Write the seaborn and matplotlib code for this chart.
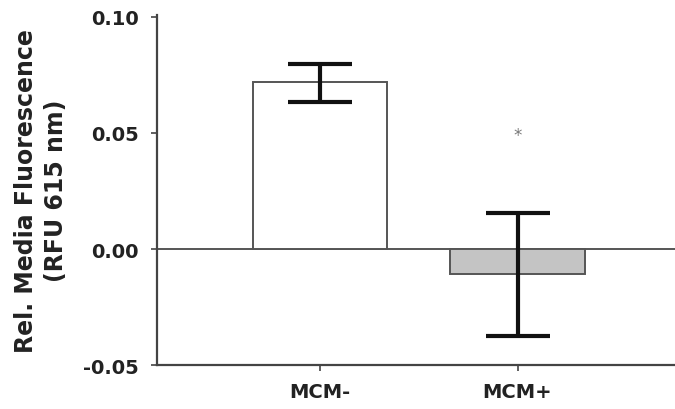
import matplotlib
matplotlib.use("Agg")
import matplotlib.pyplot as plt
import seaborn as sns
import pandas as pd
import numpy as np

# values
groups = ["MCM-", "MCM+"]
means = [0.0720, -0.0108]
ci_low = [0.0634, -0.0375]
ci_high = [0.0797, 0.0155]
bar_colors = ["#ffffff", "#c4c4c4"]
star_label = "*"
star_y = 0.049

sns.set_style("white")
plt.rcParams["font.family"] = ["DejaVu Sans"]

df = pd.DataFrame({"group": groups, "value": means})

fig = plt.figure(figsize=(6.75, 4.10), dpi=100)
ax = fig.add_axes([0.2326, 0.107, 0.7674, 0.854])

sns.barplot(data=df, x="group", y="value", hue="group", palette=bar_colors,
            width=0.68, edgecolor="#555555", linewidth=1.4, legend=False, ax=ax)

# error bars (asymmetric)
m = np.array(means)
yerr = np.vstack([m - np.array(ci_low), np.array(ci_high) - m])
ax.errorbar(np.arange(len(groups)), m, yerr=yerr, fmt="none", ecolor="#111111",
            elinewidth=3, capsize=23, capthick=3)

ax.axhline(0, color="#555555", lw=1.4, zorder=0.5)
ax.text(1, star_y, star_label, ha="center", va="center", fontsize=12, color="#777777")

ax.set_xlim(-0.825, 1.797)
ax.set_ylim(-0.05, 0.1008)
ax.set_yticks([-0.05, 0.00, 0.05, 0.10])
ax.set_yticklabels(["-0.05", "0.00", "0.05", "0.10"])

for s in ["top", "right"]:
    ax.spines[s].set_visible(False)
for s in ["left", "bottom"]:
    ax.spines[s].set_color("#444444")
    ax.spines[s].set_linewidth(1.6)

ax.tick_params(axis="both", direction="out", length=4, width=1.2, color="#444444",
               labelsize=14, left=True, bottom=True)
ax.tick_params(axis="y", pad=9)
ax.tick_params(axis="x", pad=8)
for lab in ax.get_xticklabels() + ax.get_yticklabels():
    lab.set_fontweight("bold")
    lab.set_color("#222222")

ax.set_xlabel("")
ax.set_ylabel("Rel. Media Fluorescence\n(RFU 615 nm)", fontsize=17, fontweight="bold",
              linespacing=1.3, labelpad=11, color="#222222")

fig.savefig("out.png", dpi=100)
